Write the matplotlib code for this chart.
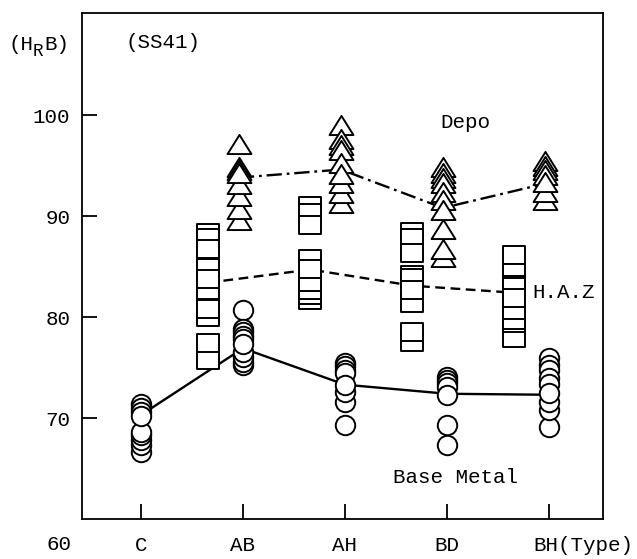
import numpy as np
import matplotlib
matplotlib.use('Agg')
import matplotlib.pyplot as plt
from matplotlib.path import Path

# ---------------- data ----------------
types = ['C', 'AB', 'AH', 'BD', 'BH']

# Base Metal (circles), per type C..BH
base_points = [
    [71.4, 71.0, 70.6, 70.2, 68.6, 68.3, 67.8, 67.3, 66.6],
    [80.7, 78.8, 78.5, 78.1, 77.8, 77.3, 76.5, 76.0, 75.5, 75.2],
    [75.4, 75.1, 74.8, 74.5, 73.3, 72.6, 71.6, 69.3],
    [74.1, 73.8, 73.5, 73.1, 72.3, 69.3, 67.3],
    [75.9, 75.2, 74.8, 74.0, 73.4, 72.5, 71.6, 70.8, 69.1],
]
base_line = [70.3, 76.9, 73.3, 72.4, 72.3]

# H.A.Z (squares), per type AB..BH
haz_types = ['AB', 'AH', 'BD', 'BH']
haz_points = [
    [88.3, 87.8, 86.7, 84.9, 83.8, 82.7, 80.8, 80.0, 77.4, 75.7],
    [91.0, 90.3, 89.1, 85.7, 84.8, 83.5, 82.7, 82.2, 81.7],
    [88.4, 87.8, 86.3, 84.2, 83.9, 82.7, 81.4, 78.5, 77.5],
    [86.1, 84.4, 83.2, 83.0, 81.9, 80.7, 79.7, 79.4, 77.9],
]
haz_line = [83.4, 84.7, 83.1, 82.4]

# Depo (triangles), per type AB..BH
depo_types = ['AB', 'AH', 'BD', 'BH']
depo_points = [
    [97.1, 94.9, 94.6, 94.3, 93.2, 92.0, 90.7, 89.6],
    [99.0, 97.6, 97.0, 96.5, 95.2, 94.2, 93.3, 92.3, 91.3],
    [94.9, 94.3, 93.8, 93.3, 92.4, 91.6, 90.6, 88.7, 86.7, 85.9],
    [95.4, 95.0, 94.6, 94.1, 93.4, 92.4, 91.6],
]
depo_line = [93.8, 94.6, 90.8, 93.2]

ytick_vals = [70, 80, 90, 100]

# ---------------- style ----------------
FONT = 'Liberation Mono'
plt.rcParams['font.family'] = [FONT, 'DejaVu Sans Mono']
plt.rcParams['lines.scale_dashes'] = False
FS = 15

W, H = 637, 559
fig = plt.figure(figsize=(W / 100, H / 100), dpi=100)
L, R, T, B = 82, 603, 13, 519
ax = fig.add_axes([L / W, (H - B) / H, (R - L) / W, (B - T) / H])

ax.set_xlim(-0.578, 4.529)
ax.set_ylim(60, 110.1)

for s in ax.spines.values():
    s.set_linewidth(1.3)
    s.set_color('black')

pos = {t: i for i, t in enumerate(types)}
circ_dx, sq_dx, tri_dx = 0.0, -0.34, -0.04

tri_marker = Path([(-1, -0.8), (1, -0.8), (0, 0.8), (-1, -0.8)], closed=True)
sq_marker = Path([(-1, -0.88), (1, -0.88), (1, 0.88), (-1, 0.88), (-1, -0.88)], closed=True)


def ordered(vals, mean):
    v = np.asarray(vals, dtype=float)
    return v[np.argsort(-np.abs(v - mean), kind='stable')]


# mean lines
ax.plot([pos[t] + circ_dx for t in types], base_line, color='black', lw=1.7,
        ls='-', zorder=2)
ax.plot([pos[t] + sq_dx for t in haz_types], haz_line, color='black', lw=1.7,
        dashes=(7, 4), zorder=2)
ax.plot([pos[t] + tri_dx for t in depo_types], depo_line, color='black', lw=1.7,
        dashes=(11, 3.5, 2, 3.5), zorder=2)

mk = dict(ls='none', mfc='white', mec='black', mew=1.4, zorder=3)
for t, vals, m in zip(types, base_points, base_line):
    v = ordered(vals, m)
    ax.plot(np.full(len(v), pos[t] + circ_dx), v, marker='o', ms=14.0, **mk)
for t, vals, m in zip(haz_types, haz_points, haz_line):
    v = ordered(vals, m)
    ax.plot(np.full(len(v), pos[t] + sq_dx), v, marker=sq_marker, ms=15.4, **mk)
for t, vals, m in zip(depo_types, depo_points, depo_line):
    v = ordered(vals, m)
    ax.plot(np.full(len(v), pos[t] + tri_dx), v, marker=tri_marker, ms=17.2, **mk)

# ticks
ax.set_xticks(range(len(types)))
ax.set_xticklabels(types[:-1] + [''])
ax.set_yticks(ytick_vals)
ax.set_yticklabels([str(v) for v in ytick_vals])
ax.tick_params(axis='both', direction='in', length=11, width=1.3,
               labelsize=FS, colors='black')
ax.tick_params(axis='x', pad=12)
ax.tick_params(axis='y', pad=8.5)
ax.tick_params(top=False, right=False)

ax.annotate('BH(Type)', xy=(pos['BH'], 0), xycoords=('data', 'axes fraction'),
            xytext=(-16 * 0.72, -12), textcoords='offset points',
            ha='left', va='top', fontsize=FS)

# "60" label sits at the level of the type labels
fig.text(72 / W, 1 - 545 / H, '60', ha='right', va='center', fontsize=FS)

# y unit label (H_R B), with a lowered R
fig.text(8 / W, 1 - 44 / H, '(H', ha='left', va='center', fontsize=FS)
fig.text(33 / W, 1 - 51 / H, 'R', ha='left', va='center', fontsize=FS * 0.85)
fig.text(44 / W, 1 - 44 / H, 'B)', ha='left', va='center', fontsize=FS)

ax.text(-0.147, 107.2, '(SS41)', ha='left', va='center', fontsize=FS)
ax.text(3.18, 99.3, 'Depo', ha='center', va='center', fontsize=FS)
ax.text(3.84, 82.4, 'H.A.Z', ha='left', va='center', fontsize=FS)
ax.text(2.47, 64.1, 'Base Metal', ha='left', va='center', fontsize=FS)

fig.savefig('out.png', dpi=100)
